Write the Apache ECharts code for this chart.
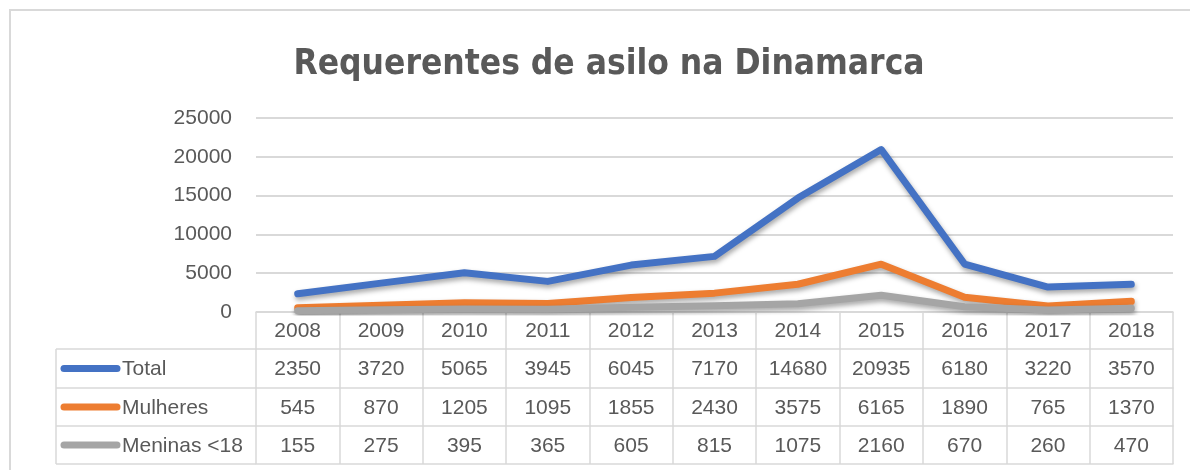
<!DOCTYPE html>
<html>
<head>
<meta charset="utf-8">
<script src="https://cdn.jsdelivr.net/npm/echarts@6/dist/echarts.min.js"></script>
<style>
  html, body { margin: 0; padding: 0; background: #fff; }
  #chart { width: 1190px; height: 470px; }
</style>
</head>
<body>
<div id="chart"></div>
<script>
const years = ['2008', '2009', '2010', '2011', '2012', '2013', '2014', '2015', '2016', '2017', '2018'];
const total = [2350, 3720, 5065, 3945, 6045, 7170, 14680, 20935, 6180, 3220, 3570];
const mulheres = [545, 870, 1205, 1095, 1855, 2430, 3575, 6165, 1890, 765, 1370];
const meninas = [155, 275, 395, 365, 605, 815, 1075, 2160, 670, 260, 470];
const seriesNames = ['Total', 'Mulheres', 'Meninas <18'];
const seriesColors = ['#4472C4', '#ED7D31', '#A5A5A5'];
const seriesData = [total, mulheres, meninas];

const textColor = '#595959';
const gridColor = '#D9D9D9';
const font = 'Liberation Sans, Arial, sans-serif';

const myChart = echarts.init(document.getElementById('chart'));

// table rows under the plot: [offset, row height]
const rows = [[0, 37], [37, 39], [76, 38], [114, 38]];

const tableAxes = rows.map(([off, h], r) => ({
  type: 'category',
  data: years,
  position: 'bottom',
  offset: off,
  boundaryGap: true,
  axisLine: { show: true, lineStyle: { color: gridColor, width: 1.5 } },
  axisTick: { show: true, interval: 0, length: h, lineStyle: { color: gridColor, width: 1.5 } },
  axisLabel: {
    interval: 0,
    margin: h / 2 + 1,
    verticalAlign: 'middle',
    color: textColor,
    fontSize: 21,
    fontFamily: font,
    formatter: (v, i) => r === 0 ? v : String(seriesData[r - 1][i])
  },
  splitLine: { show: false }
}));
// bottom border of the table
tableAxes.push({
  type: 'category',
  data: years,
  position: 'bottom',
  offset: 152,
  axisLine: { show: true, lineStyle: { color: gridColor, width: 1.5 } },
  axisTick: { show: false },
  axisLabel: { show: false }
});

// left part of the table: series names with line keys
const leftX = 56, plotLeft = 256;
const rowLines = [349, 388, 426, 464];
const leftGraphics = [];
rowLines.forEach(y => {
  leftGraphics.push({ type: 'line', shape: { x1: leftX, y1: y, x2: plotLeft, y2: y }, style: { stroke: gridColor, lineWidth: 1.5 } });
});
leftGraphics.push({ type: 'line', shape: { x1: leftX, y1: 349, x2: leftX, y2: 464 }, style: { stroke: gridColor, lineWidth: 1.5 } });
seriesNames.forEach((name, i) => {
  const cy = (rowLines[i] + rowLines[i + 1]) / 2;
  leftGraphics.push({ type: 'line', shape: { x1: 64, y1: cy, x2: 117, y2: cy }, style: { stroke: seriesColors[i], lineWidth: 7, lineCap: 'round' } });
  leftGraphics.push({ type: 'text', x: 122, y: cy + 1, style: { text: name, fill: textColor, fontSize: 21, fontFamily: font, verticalAlign: 'middle', align: 'left' } });
});
// outer frame
leftGraphics.push({ type: 'rect', shape: { x: 10, y: 10, width: 1300, height: 600 }, style: { fill: 'none', stroke: gridColor, lineWidth: 2 } });

myChart.setOption({
  animation: false,
  title: {
    text: 'Requerentes de asilo na Dinamarca',
    left: 604,
    top: 42,
    textAlign: 'center',
    textStyle: { color: textColor, fontSize: 35, fontWeight: 'bold', fontFamily: 'DejaVu Sans Condensed, Liberation Sans, sans-serif' }
  },
  grid: { left: 256, right: 17, top: 118, bottom: 158, containLabel: false },
  xAxis: tableAxes,
  yAxis: {
    type: 'value',
    min: 0,
    max: 25000,
    interval: 5000,
    axisLine: { show: false },
    axisTick: { show: false },
    axisLabel: { color: textColor, fontSize: 21, fontFamily: font, margin: 24, formatter: v => String(v) },
    splitLine: { lineStyle: { color: gridColor, width: 2 } }
  },
  graphic: leftGraphics,
  series: seriesData.map((d, i) => ({
    name: seriesNames[i],
    type: 'line',
    xAxisIndex: 0,
    data: d,
    symbol: 'none',
    z: 3 + i,
    lineStyle: {
      color: seriesColors[i],
      width: 7,
      cap: 'round',
      join: 'round',
      shadowColor: 'rgba(0,0,0,0.35)',
      shadowBlur: 5,
      shadowOffsetX: 1,
      shadowOffsetY: 3
    }
  }))
});
</script>
</body>
</html>
